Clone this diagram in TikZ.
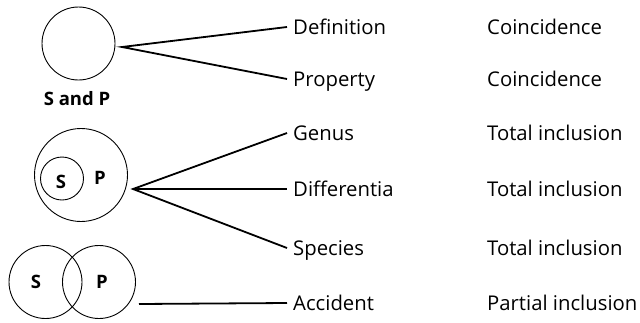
\documentclass[tikz,border=0pt]{standalone}
\usepackage{fontspec}
\setmainfont{Open Sans}
\begin{document}
\begin{tikzpicture}[x=1pt,y=-1pt,
  circ/.style={draw,line width=0.9pt},
  conn/.style={line width=1.8pt},
  lbl/.style={anchor=base west,inner xsep=6pt,inner ysep=0pt,font=\fontsize{20.3}{22}\selectfont},
  rel/.style={anchor=base west,inner sep=0pt,font=\fontsize{20.3}{22}\selectfont},
  let/.style={font=\fontsize{18.5}{21}\selectfont\bfseries,inner sep=0pt}]
\useasboundingbox (0,0) rectangle (640,322);
% first diagram
\draw[circ] (78.5,43.5) circle (36.5);
\node[let] (sp) at (77,99) {S and P};
\coordinate (a1) at (122,47);
\node[lbl] (def) at (287,34) {Definition};
\node[lbl] (prop) at (287,86) {Property};
\draw[conn] ([yshift=7pt]def.base west) -- (a1) -- ([yshift=7pt]prop.base west);
% second diagram
\draw[circ] (81,175) circle (46.5);
\draw[circ] (62,178.5) circle (21.5);
\node[let] (s2) at (61,182) {S};
\node[let] (p2) at (100,178) {P};
\coordinate (a2) at (133,189);
\node[lbl] (gen) at (287,140) {Genus};
\node[lbl] (dif) at (287,196) {Differentia};
\node[lbl] (spe) at (287,255) {Species};
\draw[conn] ([yshift=7pt]gen.base west) -- (a2) -- ([yshift=7pt]spe.base west);
\draw[conn] (a2) -- ([yshift=7pt]dif.base west);
% third diagram
\draw[circ] (45.5,282) circle (36.5);
\draw[circ] (99,282) circle (36.5);
\node[let] (s3) at (36,282) {S};
\node[let] (p3) at (102,282) {P};
\coordinate (a3) at (139,304);
\node[lbl] (acc) at (287,310) {Accident};
\draw[conn] (a3) -- ([yshift=7pt]acc.base west);
% relations
\node[rel] (r1) at (487,34) {Coincidence};
\node[rel] (r2) at (487,86) {Coincidence};
\node[rel] (r3) at (487,140) {Total inclusion};
\node[rel] (r4) at (487,196) {Total inclusion};
\node[rel] (r5) at (487,255) {Total inclusion};
\node[rel] (r6) at (487,310) {Partial inclusion};
\end{tikzpicture}
\end{document}
